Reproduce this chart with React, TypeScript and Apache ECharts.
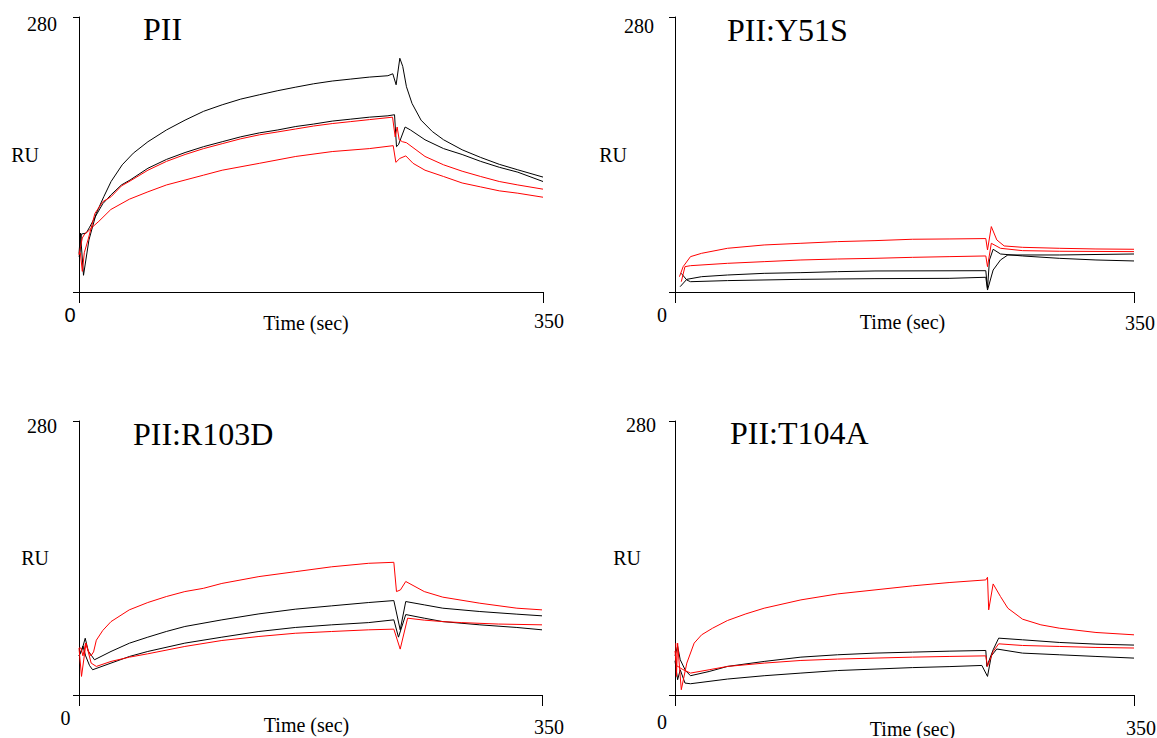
import React, { useEffect, useRef } from "react";
import * as echarts from "echarts";

// ---- text ----
const panelTitles = ["PII", "PII:Y51S", "PII:R103D", "PII:T104A"];
const xTickLabels = ["0", "350"];
const yTickLabel = "280";
const xAxisName = "Time (sec)";
const yAxisName = "RU";
const xMax = 350;
const yMax = 280;

// ---- data: [time (s), response (RU)] ----
// Panel 1: PII
const p1BlackA = [[0,39],[1.1,60],[3.4,17],[7.5,53],[13,80],[18.7,97],[24.2,112.5],[32.6,129.5],[41,141.4],[52,153],[66,165],[80,175],[94,184],[108,190.6],[122,196.4],[136,200.8],[150,205],[163.5,208.6],[177,212],[191,214.8],[205,216.8],[219,218.8],[233,220.2],[236.7,222.2],[239.2,211],[242,238],[244.2,229.7],[247,209],[251.2,192],[258,175],[266.5,163.4],[275,155],[289,144.8],[303,137],[317,130],[331,124.4],[350,117]];
const p1BlackB = [[0,36],[0.8,40],[1.8,59],[5.5,60],[8,66],[12,76],[18,90],[24.2,99],[32,109],[38.5,114],[52,126],[66,135],[80,142],[94,148],[108,153],[122,158],[136,162],[150,165],[163.5,168.5],[177,171],[191,174],[205,176],[219,178],[233,179.4],[238,180.5],[239.5,148],[241,150],[246,168],[250,165],[261,155],[275,146],[289,140],[303,133],[317,127],[331,122],[350,112.5]];
const p1RedA = [[0,38],[1,40],[2.5,21],[4,40],[7,54],[12,80],[18,92],[24.2,97],[32,108],[38.5,113],[52,124],[66,133],[80,140],[94,146],[108,151],[122,156],[136,160],[150,163],[163.5,166],[177,169],[191,171.5],[205,173.5],[219,175.5],[236.5,178],[238.5,158],[240,168],[241.5,155],[244,153],[247,152],[261,138],[275,129.5],[289,123],[303,117.6],[317,112.5],[331,109],[350,104.7]];
const p1RedB = [[0,38],[1,45],[2.5,55],[4.5,59.5],[7,62],[10,66],[15,72],[24,84],[38,94.5],[52,102],[66,109],[80,114],[94,119],[108,124],[136,131],[163.5,138],[191,143],[219,146],[237,149],[239,132],[242,136],[246.5,138.6],[252,131],[261,124],[275,117.6],[289,111],[303,107],[317,103],[331,100.6],[350,96.5]];

// Panel 2: PII:Y51S
const p2RedA = [[3.4,15.6],[6.2,25.8],[11.8,36],[20.3,39.4],[40,44.5],[68,47.9],[96,49.6],[124,51.3],[152.5,52.3],[181,53.7],[209,54],[237,54.4],[238.3,42.8],[241.2,66.6],[245.4,53],[251,46.9],[265,45.5],[293,44.5],[321,43.8],[350,43.5]];
const p2RedB = [[4.8,10.5],[7.6,25.8],[11.8,26.8],[40,29.2],[68,30.9],[96,32.6],[124,33.6],[152.5,34.3],[181,35.3],[209,36],[237,36.7],[238.3,25.8],[241.2,49.6],[248.2,44.5],[265,42.1],[293,41.5],[350,41.1]];
const p2BlackA = [[3.9,5.4],[9,12.9],[20.3,15.6],[40,17.3],[68,19],[96,19.7],[124,20.7],[152.5,21.4],[237,21.7],[238.3,3.7],[239.8,32.6],[242.6,43.5],[248.2,38.7],[265,36.7],[293,34.3],[321,32.6],[350,31.6]];
const p2BlackB = [[4.8,19],[9,12.2],[11.8,10.5],[40,11.6],[96,12.9],[152.5,13.6],[209,13.9],[237,15],[238.3,2],[242.6,22.4],[248.2,32.6],[253.8,37.7],[293,37.7],[350,38.7]];

// Panel 3: PII:R103D
const p3RedA = [[0,48],[1.5,48],[3,40],[5,53],[7,45],[9,40],[11,44],[13.1,56],[18,66],[24.2,75],[38,87],[52,94.5],[66,100.6],[80,105.7],[94,109],[108,114],[136,121],[163.5,126],[191,131],[219,134.6],[238,135.6],[240,105.7],[243,107.4],[247,116],[261,105.7],[275,100],[303,93.8],[331,88.7],[350,87]];
const p3BlackA = [[0,40],[2,45],[4.7,58],[7,45],[11.7,36],[24.2,44.5],[38.2,53],[52,59.1],[66,64.9],[80,70],[108,76.8],[136,82.9],[163.5,87.7],[191,91.1],[219,94.5],[238,96.5],[242.8,66.6],[247,95.5],[261,92.1],[275,88.7],[303,85.3],[331,82.6],[350,80.9]];
const p3BlackB = [[0,40],[3,50],[5,40],[8,30],[10.3,25.8],[24.2,32.6],[38.2,39.4],[52,44.5],[80,53],[108,59.1],[136,64.9],[163.5,69],[191,71.7],[219,74],[238,76.8],[241.5,59.1],[247,82.2],[261,78.5],[275,75],[303,71.7],[331,69],[350,66.6]];
const p3RedB = [[0,48],[1.9,19],[5.3,53],[9.2,32.6],[13.1,29.2],[24.2,34.3],[38.2,38.7],[52,42.1],[80,49.6],[108,55.7],[136,59.8],[163.5,63.1],[191,64.9],[219,66.6],[238,67.3],[242.8,46.9],[248.4,78.5],[261,76.5],[275,75],[289,74],[317,72.5],[350,71.7]];

// Panel 4: PII:T104A
const p4RedA = [[0.6,53],[1.1,19],[2,53],[4.8,5.4],[9,32.6],[14.6,53],[20.3,61.5],[28.7,68.3],[40,76.1],[54,82.9],[68,88.7],[96,97.2],[124,103.3],[152.5,107.4],[181,111.5],[209,114.9],[237,117.6],[238.3,120.3],[239.2,87],[242.6,113.5],[248.2,100.6],[253.8,88.7],[265,77.5],[279,71.7],[293,68.3],[321,63.9],[350,61.5]];
const p4BlackA = [[0,40],[2,50],[4,36],[8,25],[11.8,19.7],[26,24],[40,29.2],[68,34.3],[96,38.7],[124,41.1],[152.5,42.8],[181,43.8],[209,44.8],[237,45.5],[237.8,29.2],[242.6,46.2],[246.8,58.1],[265,56.4],[293,53.7],[321,52],[350,51]];
const p4RedB = [[0,45],[1.2,30],[6,26],[11.8,22.4],[26,25.8],[40,29.2],[68,32.6],[96,35.3],[124,36.7],[152.5,37.7],[181,38.7],[209,39.4],[237,40],[238.3,29.2],[242.6,44.5],[246.8,52.3],[265,50.6],[293,49.6],[321,48.6],[350,48]];
const p4BlackB = [[0,35],[2,15.6],[4,25.8],[7.6,12.2],[11.8,11.5],[40,16.3],[68,19.7],[96,22.4],[124,25],[152.5,26.5],[181,28],[209,29],[234,30.2],[238.3,19],[241.2,40],[245.4,47],[265,42.8],[293,41.1],[321,39.4],[350,37.7]];

const panelSeries = [
  { black: [p1BlackA, p1BlackB], red: [p1RedA, p1RedB] },
  { black: [p2BlackA, p2BlackB], red: [p2RedA, p2RedB] },
  { black: [p3BlackA, p3BlackB], red: [p3RedA, p3RedB] },
  { black: [p4BlackA, p4BlackB], red: [p4RedA, p4RedB] },
];

// ---- layout (pixels) ----
const grids = [
  { left: 79, top: 17, width: 464, height: 275 },
  { left: 675, top: 17, width: 459, height: 275 },
  { left: 79, top: 421, width: 463, height: 274 },
  { left: 675, top: 421, width: 459, height: 274 },
];
const titlePos = [
  { left: 143, top: 13 },
  { left: 727, top: 14 },
  { left: 133, top: 418 },
  { left: 730, top: 417 },
];
const SANS = "'Liberation Sans', Arial, sans-serif";
const SERIF = "'Liberation Serif', 'Times New Roman', serif";
const LABEL_SIZE = 20;
const layoutTweaks = [
  { zeroR: 18, zeroTop: 12.5, zeroFont: SANS, endL: 12, endTop: 18.5, yMargin: 22, yTop: 14, ruGap: 40, ruPad: [0, 0, 0, 0], timeGap: 20.5, timePad: [0, 10, 0, 0] },
  { zeroR: 26, zeroTop: 12.5, zeroFont: SERIF, endL: 12, endTop: 20.5, yMargin: 21, yTop: 18, ruGap: 48, ruPad: [3, 0, 0, 0], timeGap: 19.5, timePad: [0, 4, 0, 0] },
  { zeroR: 27, zeroTop: 12.5, zeroFont: SERIF, endL: 14, endTop: 21.5, yMargin: 22, yTop: 10, ruGap: 30, ruPad: [0, 0, 9, 0], timeGap: 19.5, timePad: [0, 8, 0, 0] },
  { zeroR: 26, zeroTop: 16.5, zeroFont: SERIF, endL: 14, endTop: 22.5, yMargin: 19, yTop: 8, ruGap: 34, ruPad: [0, 0, 10, 0], timeGap: 23.5, timePad: [0, 0, 0, 16] },
];

export default function App() {
  const ref = useRef<HTMLDivElement>(null);
  useEffect(() => {
    document.body.style.margin = "0";
    if (!ref.current) return;
    const chart = echarts.init(ref.current, undefined, { renderer: "svg" });

    const xAxes = grids.map((_, i) => {
      const t = layoutTweaks[i];
      return {
        type: "value",
        gridIndex: i,
        min: 0,
        max: xMax,
        interval: xMax,
        splitLine: { show: false },
        axisLine: { show: true, onZero: false, lineStyle: { color: "#000", width: 1 } },
        axisTick: { show: true, length: 11, lineStyle: { color: "#000", width: 1 } },
        axisLabel: {
          show: true,
          margin: 0,
          hideOverlap: false,
          showMinLabel: true,
          showMaxLabel: true,
          verticalAlign: "top",
          formatter: (v: number) => (v === 0 ? "{z|" + xTickLabels[0] + "}" : "{e|" + xTickLabels[1] + "}"),
          rich: {
            z: { fontFamily: t.zeroFont, fontSize: LABEL_SIZE, color: "#000", padding: [t.zeroTop, t.zeroR, 0, 0] },
            e: { fontFamily: SERIF, fontSize: LABEL_SIZE, color: "#000", padding: [t.endTop, 0, 0, t.endL] },
          },
        },
        name: xAxisName,
        nameLocation: "middle",
        nameGap: t.timeGap,
        nameMoveOverlap: false,
        nameTextStyle: { fontFamily: SERIF, fontSize: LABEL_SIZE, color: "#000", padding: t.timePad },
      };
    });

    const yAxes = grids.map((_, i) => {
      const t = layoutTweaks[i];
      return {
        type: "value",
        gridIndex: i,
        min: 0,
        max: yMax,
        interval: yMax,
        splitLine: { show: false },
        axisLine: { show: true, onZero: false, lineStyle: { color: "#000", width: 1 } },
        axisTick: { show: true, length: 6, lineStyle: { color: "#000", width: 1 } },
        axisLabel: {
          show: true,
          margin: t.yMargin,
          hideOverlap: false,
          showMaxLabel: true,
          formatter: (v: number) => (v === yMax ? "{t|" + yTickLabel + "}" : ""),
          rich: {
            t: { fontFamily: SERIF, fontSize: LABEL_SIZE, color: "#000", padding: [t.yTop, 0, 0, 0] },
          },
        },
        name: yAxisName,
        nameLocation: "middle",
        nameRotate: 0,
        nameGap: t.ruGap,
        nameMoveOverlap: false,
        nameTextStyle: { fontFamily: SERIF, fontSize: LABEL_SIZE, color: "#000", padding: t.ruPad },
      };
    });

    const series: any[] = [];
    panelSeries.forEach((p, i) => {
      p.black.forEach((d, k) =>
        series.push({
          type: "line",
          name: "black" + i + k,
          xAxisIndex: i,
          yAxisIndex: i,
          data: d,
          showSymbol: false,
          smooth: false,
          lineStyle: { color: "#000000", width: 1 },
          itemStyle: { color: "#000000" },
        })
      );
      p.red.forEach((d, k) =>
        series.push({
          type: "line",
          name: "red" + i + k,
          xAxisIndex: i,
          yAxisIndex: i,
          data: d,
          showSymbol: false,
          smooth: false,
          lineStyle: { color: "#ff0000", width: 1 },
          itemStyle: { color: "#ff0000" },
        })
      );
    });

    chart.setOption({
      animation: false,
      backgroundColor: "#ffffff",
      title: panelTitles.map((txt, i) => ({
        text: txt,
        left: titlePos[i].left,
        top: titlePos[i].top,
        padding: 0,
        textStyle: { fontFamily: SERIF, fontSize: 32, fontWeight: "normal", color: "#000" },
      })),
      grid: grids.map((g) => ({ ...g, containLabel: false, outerBoundsMode: "none" })),
      xAxis: xAxes,
      yAxis: yAxes,
      series,
    });
    return () => chart.dispose();
  }, []);
  return <div ref={ref} style={{ width: 1157, height: 738 }} />;
}
